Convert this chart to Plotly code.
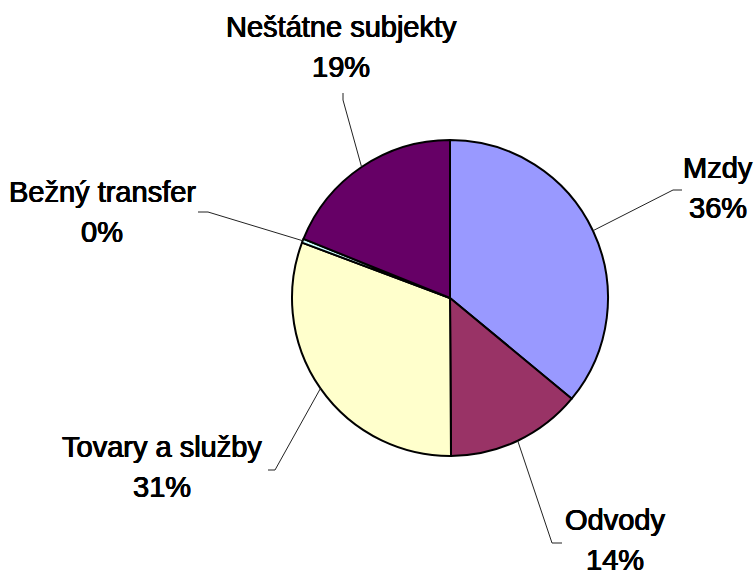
import math
import plotly.graph_objects as go

categories = ["Mzdy", "Odvody", "Tovary a služby", "Bežný transfer", "Neštátne subjekty"]
values = [36.0, 13.9, 30.8, 0.4, 18.9]
pct_labels = ["36%", "14%", "31%", "0%", "19%"]
colors = ["#9999FF", "#993366", "#FFFFCC", "#CCFFFF", "#660066"]

W, H = 755, 578
CX, CY, R = 450, 298, 158

# label text centers (px) and leader-line elbow/tail points (px)
label_pos = [(718, 189), (615, 541), (162, 468), (102, 213), (341, 48)]
elbows = [[(673, 190), (682, 190)],
          [(552, 543), (562, 543)],
          [(275, 470), (268, 470)],
          [(208, 212), (198, 212)],
          [(343, 100), (343, 93)]]

def px(x):
    return x / W

def py(y):
    return 1 - y / H

fig = go.Figure(go.Pie(
    labels=categories, values=values, sort=False, direction="clockwise",
    rotation=0, textinfo="none", hoverinfo="label+percent",
    marker=dict(colors=colors, line=dict(color="black", width=2)),
    domain=dict(x=[px(CX - R), px(CX + R)], y=[py(CY + R), py(CY - R)]),
    showlegend=False,
))

font = dict(family="Liberation Sans, Arial, sans-serif", size=29, color="black",
            shadow="0.5px 0px 0px black, -0.4px 0px 0px black, 0px 0.4px 0px black")

total = sum(values)
cum = 0.0
shapes = []
annotations = []
for i, v in enumerate(values):
    mid = (cum + v / 2) / total * 2 * math.pi
    cum += v
    ex = CX + R * math.sin(mid)
    ey = CY - R * math.cos(mid)
    pts = [(ex, ey)] + elbows[i]
    for (x0, y0), (x1, y1) in zip(pts[:-1], pts[1:]):
        shapes.append(dict(type="line", xref="paper", yref="paper",
                           x0=px(x0), y0=py(y0), x1=px(x1), y1=py(y1),
                           line=dict(color="#222222", width=1)))
    lx, ly = label_pos[i]
    for txt, dy in ((categories[i], -21), (pct_labels[i], 19)):
        annotations.append(dict(
            x=px(lx), y=py(ly + dy), xref="paper", yref="paper", showarrow=False,
            text=txt, align="center", xanchor="center", yanchor="middle",
            font=font,
        ))

fig.update_layout(
    width=W, height=H, margin=dict(l=0, r=0, t=0, b=0),
    paper_bgcolor="white", plot_bgcolor="white",
    shapes=shapes, annotations=annotations,
)

fig.write_html("out.html", config={"displayModeBar": False},
               post_script="document.body.style.margin='0';")
